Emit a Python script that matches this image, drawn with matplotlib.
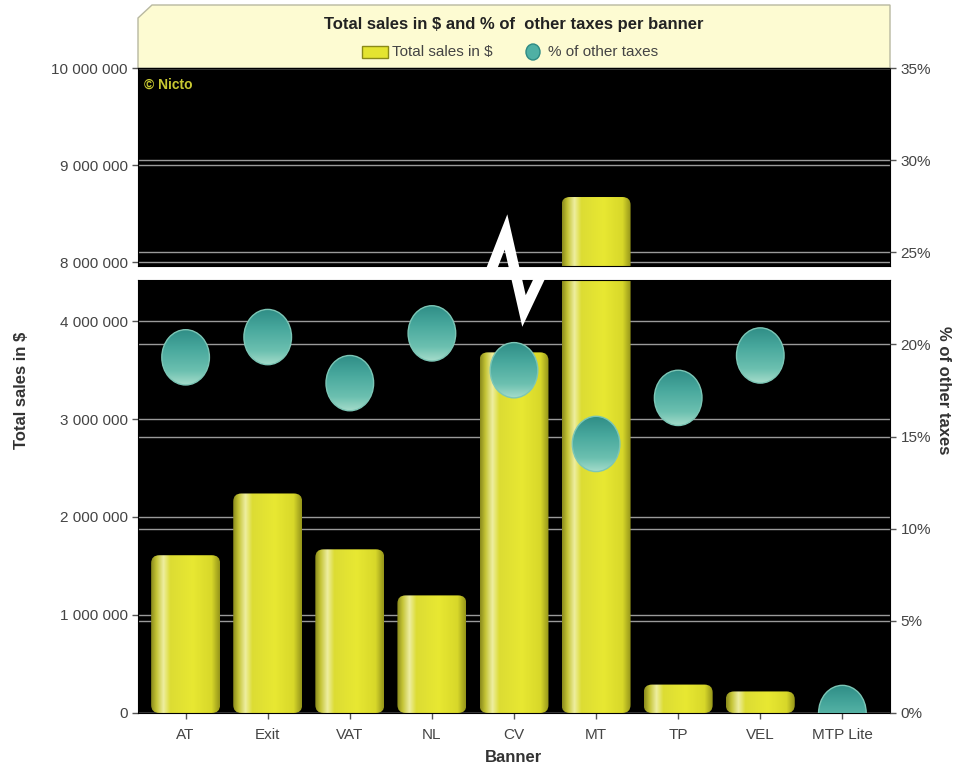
import numpy as np
import matplotlib
matplotlib.use("Agg")
from matplotlib import pyplot as plt
from matplotlib.patches import FancyBboxPatch, Ellipse, Rectangle, Polygon
from matplotlib.lines import Line2D
from matplotlib.transforms import blended_transform_factory
from matplotlib.colors import LinearSegmentedColormap
from matplotlib.ticker import FuncFormatter

# data
banners = ["AT", "Exit", "VAT", "NL", "CV", "MT", "TP", "VEL", "MTP Lite"]
sales = [1610000, 2240000, 1670000, 1200000, 3680000, 8670000, 290000, 220000, 0]
other_tax_pct = [19.3, 20.4, 17.9, 20.6, 18.6, 14.6, 17.1, 19.4, 0.0]

low_ticks = [0, 1000000, 2000000, 3000000, 4000000]
high_ticks = [8000000, 9000000, 10000000]
pct_ticks = [0, 5, 10, 15, 20, 25, 30, 35]

W, H = 955, 767
fig = plt.figure(figsize=(W / 100, H / 100), dpi=100)
fig.patch.set_facecolor("white")

narrow = ["Liberation Sans Narrow", "Liberation Sans", "DejaVu Sans"]
tick_col = "#555555"
grid_col = "#9a9a9a"


def fx(px):
    return px / W


def fy(py):
    return 1 - py / H


left, right = 138, 890
top, low_top, up_bot, bottom = 68, 280, 266, 713

ax_low = fig.add_axes([fx(left), fy(bottom), fx(right - left), (bottom - low_top) / H])
ax_up = fig.add_axes([fx(left), fy(up_bot), fx(right - left), (up_bot - top) / H])
ax_pct = fig.add_axes([fx(left), fy(bottom), fx(right - left), (bottom - top) / H])

x = np.arange(len(banners))
for a in (ax_low, ax_up, ax_pct):
    a.set_xlim(-0.58, len(banners) - 0.42)

ax_low.set_ylim(0, (bottom - low_top) / 98 * 1e6)
ax_up.set_ylim(10e6 - (up_bot - top) / 97 * 1e6, 10e6)
ax_pct.set_ylim(0, 35)

for a in (ax_low, ax_up):
    a.set_facecolor("black")
    for s in a.spines.values():
        s.set_color("black")
    a.tick_params(axis="y", colors=tick_col, labelsize=11, length=4, width=1)

fmt = FuncFormatter(lambda v, p: "{:,}".format(int(round(v))).replace(",", " "))
ax_low.set_yticks(low_ticks)
ax_up.set_yticks(high_ticks)
ax_low.yaxis.set_major_formatter(fmt)
ax_up.yaxis.set_major_formatter(fmt)
ax_up.set_xticks([])
ax_low.set_xticks(x)
ax_low.set_xticklabels(banners)
ax_low.tick_params(axis="x", colors=tick_col, labelsize=11, length=4, width=1, pad=7)
for a in (ax_low, ax_up):
    for lab in a.get_yticklabels() + a.get_xticklabels():
        lab.set_family(narrow)
        lab.set_color("#444444")

# grid lines from both axes, drawn behind the bars
for a in (ax_low, ax_up):
    for t in (low_ticks if a is ax_low else high_ticks):
        a.axhline(t, color=grid_col, lw=1, zorder=1)
    tr = blended_transform_factory(a.transAxes, ax_pct.transData)
    for p in pct_ticks:
        a.add_line(Line2D([0, 1], [p, p], transform=tr, color=grid_col, lw=1, zorder=1))

# bars with a cylinder-like gradient
bar_cmap = LinearSegmentedColormap.from_list("bar", [
    (0.0, "#8a8a1c"), (0.08, "#c4c436"), (0.18, "#eeeea0"), (0.28, "#dcdc34"),
    (0.6, "#e8e832"), (0.88, "#d8d82a"), (1.0, "#94941a")])
grad = np.linspace(0, 1, 256).reshape(1, -1)
bw = 0.84
for a in (ax_low, ax_up):
    for xi, v in zip(x, sales):
        if v <= 0:
            continue
        patch = FancyBboxPatch((xi - bw / 2, 0), bw, v,
                               boxstyle="round,pad=0,rounding_size=0.1",
                               mutation_aspect=820000,
                               fc="none", ec="none", zorder=2)
        a.add_patch(patch)
        im = a.imshow(grad, cmap=bar_cmap, aspect="auto",
                      extent=(xi - bw / 2, xi + bw / 2, 0, v), zorder=2)
        im.set_clip_path(patch)
    a.set_xlim(-0.58, len(banners) - 0.42)

# percent axis with ellipse markers
ax_pct.patch.set_alpha(0)
for s in ax_pct.spines.values():
    s.set_visible(False)
ax_pct.set_xticks([])
ax_pct.yaxis.tick_right()
ax_pct.set_yticks(pct_ticks)
ax_pct.set_yticklabels(["%d%%" % p for p in pct_ticks])
ax_pct.tick_params(axis="y", colors=tick_col, labelsize=11, length=4, width=1)
for lab in ax_pct.get_yticklabels():
    lab.set_family(narrow)
    lab.set_color("#444444")

# top of the marker darker teal, bottom lighter
dot_cmap = LinearSegmentedColormap.from_list("dot", [
    (0.0, "#2f8d86"), (0.35, "#48a89d"), (0.75, "#6cc0b0"), (1.0, "#a6dccb")])
vgrad = np.linspace(0, 1, 256).reshape(-1, 1)
ew, eh = 0.58, 3.0
for xi, p in zip(x, other_tax_pct):
    ell = Ellipse((xi, p), ew, eh, fc="none", ec="#7cc6b6", lw=1.0, zorder=5)
    ax_pct.add_patch(ell)
    im = ax_pct.imshow(vgrad, cmap=dot_cmap, aspect="auto", origin="upper",
                       extent=(xi - ew / 2, xi + ew / 2, p - eh / 2, p + eh / 2),
                       zorder=4)
    im.set_clip_path(ell)
ax_pct.set_xlim(-0.58, len(banners) - 0.42)
ax_pct.set_ylim(0, 35)

# axis labels
fig.text(fx(22), fy(390), "Total sales in $", rotation=90, ha="center", va="center",
         fontsize=12, fontweight="bold", color="#333333", family="Liberation Sans")
fig.text(fx(943), fy(390), "% of other taxes", rotation=-90, ha="center", va="center",
         fontsize=12, fontweight="bold", color="#333333", family="Liberation Sans")
fig.text(fx(514), fy(757), "Banner", ha="center", va="center",
         fontsize=12, fontweight="bold", color="#333333", family=narrow)

# axis break marker
brk = Line2D([fx(left), fx(490), fx(506), fx(524), fx(542), fx(right)],
             [fy(273), fy(273), fy(232), fy(311), fy(273), fy(273)],
             transform=fig.transFigure, color="white", lw=7.5,
             solid_joinstyle="miter", zorder=10)
fig.add_artist(brk)

# copyright note
fig.text(fx(144), fy(85), "\u00a9 Nicto", ha="left", va="center", fontsize=10,
         fontweight="bold", color="#c8c832", family=narrow)

# header panel with title and legend
panel = Polygon([(fx(left), fy(top)), (fx(left), fy(18)), (fx(152), fy(5)),
                 (fx(right), fy(5)), (fx(right), fy(top))],
                closed=True, transform=fig.transFigure, fc="#fdfbd2", ec="#b8b8a0",
                lw=1, zorder=0)
fig.add_artist(panel)
fig.text(fx(514), fy(25), "Total sales in $ and % of  other taxes per banner",
         ha="center", va="center", fontsize=12, fontweight="bold", color="#222222",
         family=narrow)
leg_box = Rectangle((fx(362), fy(58)), fx(26), 12 / H, transform=fig.transFigure,
                    fc="#e4e430", ec="#8a8a18", lw=1)
fig.add_artist(leg_box)
fig.text(fx(392), fy(52), "Total sales in $", ha="left", va="center", fontsize=11,
         color="#444444", family=narrow)
leg_dot = Ellipse((fx(533), fy(52)), 14 / W, 16 / H, transform=fig.transFigure,
                  fc="#4fb0a4", ec="#2d8a84", lw=1)
fig.add_artist(leg_dot)
fig.text(fx(548), fy(52), "% of other taxes", ha="left", va="center", fontsize=11,
         color="#444444", family=narrow)

fig.savefig("out.png", dpi=100, facecolor="white")
